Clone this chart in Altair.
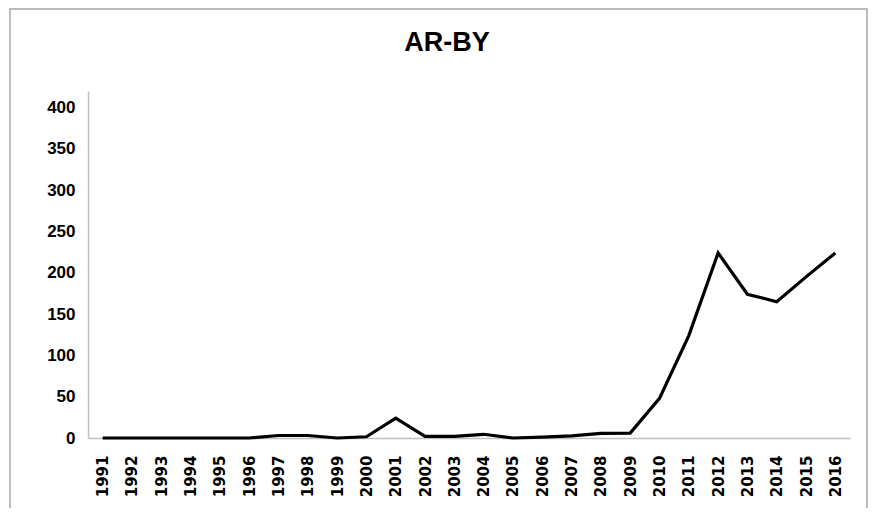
import altair as alt
import pandas as pd

years = [str(y) for y in range(1991, 2017)]
values = [0, 0, 0, 0, 0, 0, 3, 3, 0, 1.5, 24, 2, 2, 4.5, 0, 1, 2.5, 5.5, 6,
          48, 124, 224, 174, 165, 195, 224]
y_ticks = [0, 50, 100, 150, 200, 250, 300, 350, 400]

df = pd.DataFrame({"year": years, "value": values})

NARROW = "Liberation Sans Narrow, Arial Narrow, Liberation Sans, sans-serif"
WIDE = "DejaVu Sans, sans-serif"

line = alt.Chart(df).mark_line(color="black", strokeWidth=3.2).encode(
    x=alt.X("year:O", sort=years,
            scale=alt.Scale(type="point", padding=0.5),
            axis=alt.Axis(title=None, labelAngle=270, labelAlign="right",
                          labelBaseline="middle", labelPadding=17, ticks=False,
                          labelFont=WIDE, labelFontSize=15, labelFontWeight="bold",
                          labelColor="black", domainColor="#bfbfbf", domainWidth=1.5)),
    y=alt.Y("value:Q", scale=alt.Scale(domain=[0, 420], nice=False),
            axis=alt.Axis(title=None, values=y_ticks, grid=False, ticks=False,
                          labelPadding=13, labelFont=NARROW, labelFontSize=17,
                          labelFontWeight="bold", labelColor="black",
                          domainColor="#bfbfbf", domainWidth=1.5)),
)

frame = alt.Chart(df).mark_rect(fill=None, stroke="#a6a6a6", strokeWidth=1.5).encode(
    x=alt.value(-78), x2=alt.value(779), y=alt.value(-82), y2=alt.value(450)
).transform_filter(alt.datum.year == "1991")

chart = alt.layer(frame, line).properties(
    width=762, height=347,
    title=alt.TitleParams("AR-BY", font=NARROW, fontSize=27, fontWeight="bold",
                          color="black", anchor="middle", dx=-22, offset=-49),
    autosize=alt.AutoSizeParams(type="none"),
    padding={"left": 80, "top": 83, "right": 19, "bottom": 70},
).configure(background="white", view=alt.ViewConfig(stroke=None))

chart.save("out.html", embed_options={"renderer": "svg", "actions": False})
